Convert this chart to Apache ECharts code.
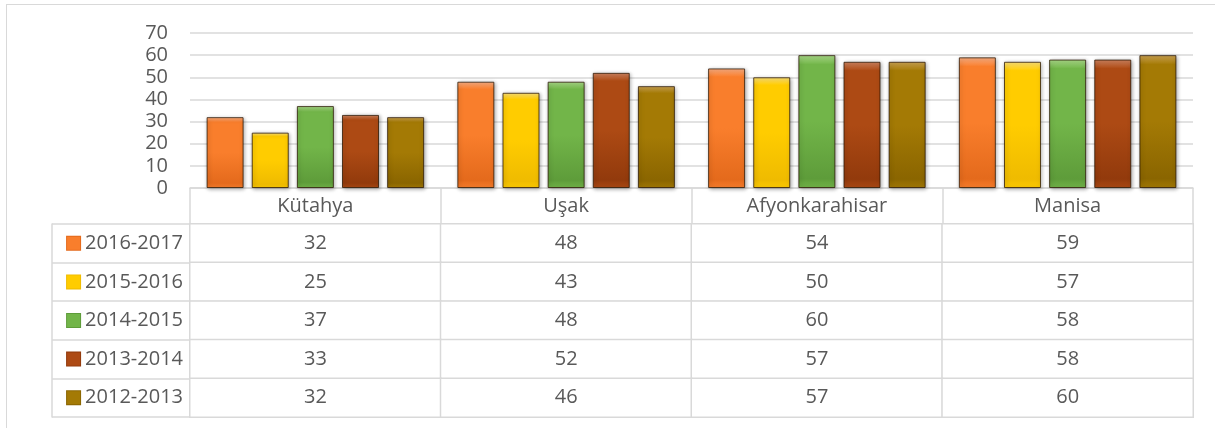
<!DOCTYPE html>
<html>
<head>
<meta charset="utf-8">
<script src="https://cdn.jsdelivr.net/npm/echarts@6/dist/echarts.min.js"></script>
<style>
    body { margin: 0; background: #fff; }
    #frame { position: absolute; left: 6px; top: 4px; width: 1300px; height: 500px; border: 1px solid #d9d9d9; }
    #chart { position: absolute; left: 0; top: 0; width: 1215px; height: 428px; }
</style>
</head>
<body>
<div id="frame"></div>
<div id="chart"></div>
<script>
    // kategoriler ve seriler
    var cities = ['Kütahya', 'Uşak', 'Afyonkarahisar', 'Manisa'];
    var years = ['2016-2017', '2015-2016', '2014-2015', '2013-2014', '2012-2013'];
    var y2016 = [32, 48, 54, 59];
    var y2015 = [25, 43, 50, 57];
    var y2014 = [37, 48, 60, 58];
    var y2013 = [33, 52, 57, 58];
    var y2012 = [32, 46, 57, 60];
    var yTicks = [0, 70, 10];   // min, max, interval

    var rows = [y2016, y2015, y2014, y2013, y2012];
    // [acik, ana, koyu]
    var palette = [
        ['#fcb084', '#f97e2c', '#e46a1c'],
        ['#ffe37a', '#ffcc00', '#efbb00'],
        ['#abdb8a', '#72b549', '#5e9c3a'],
        ['#d08460', '#ad4a14', '#923a0c'],
        ['#cda454', '#a47a05', '#8a6500']
    ];
    var textColor = '#595959';
    var lineColor = '#d9d9d9';
    var font = 'Open Sans';

    var seriesData = [];
    for (var i = 0; i < years.length; i++) {
        var c = palette[i];
        seriesData.push({
            name: years[i],
            type: 'bar',
            xAxisIndex: 0,
            yAxisIndex: 0,
            data: rows[i],
            barWidth: 37,
            barGap: '22%',
            itemStyle: {
                color: new echarts.graphic.LinearGradient(0, 0, 0, 1, [
                    {offset: 0, color: c[0]},
                    {offset: 0.07, color: c[1]},
                    {offset: 0.5, color: c[1]},
                    {offset: 0.93, color: c[2]},
                    {offset: 1, color: c[1]}
                ]),
                borderColor: 'rgba(40,20,0,0.75)',
                borderWidth: 1,
                shadowBlur: 4,
                shadowColor: 'rgba(0,0,0,0.35)',
                shadowOffsetX: 1,
                shadowOffsetY: 1
            }
        });
    }

    // tablo hucreleri
    var cells = [];
    for (var r = 0; r < rows.length; r++) {
        for (var k = 0; k < cities.length; k++) {
            cells.push([k, r, rows[r][k]]);
        }
    }
    seriesData.push({
        type: 'heatmap',
        xAxisIndex: 1,
        yAxisIndex: 1,
        data: cells,
        itemStyle: {color: '#fff', borderColor: lineColor, borderWidth: 1.5},
        label: {
            show: true,
            fontFamily: font,
            fontSize: 20,
            color: textColor,
            formatter: function (p) { return p.value[2]; }
        },
        emphasis: {disabled: true}
    });

    var rich = {t: {fontFamily: font, fontSize: 20, color: textColor, padding: [0, 0, 0, 5]}};
    for (var j = 0; j < years.length; j++) {
        rich['m' + j] = {width: 13, height: 13, backgroundColor: palette[j][1], borderColor: palette[j][2], borderWidth: 1};
    }

    var myChart = echarts.init(document.getElementById('chart'));
    myChart.setOption({
        animation: false,
        grid: [
            {left: 190, right: 22, top: 33, height: 155},
            {left: 190, right: 22, top: 224, bottom: 11}
        ],
        xAxis: [
            {
                type: 'category',
                gridIndex: 0,
                data: cities,
                axisLine: {lineStyle: {color: lineColor, width: 1.5}},
                axisTick: {show: true, length: 36, lineStyle: {color: lineColor, width: 1.5}},
                axisLabel: {fontFamily: font, fontSize: 20, color: textColor, margin: 0, lineHeight: 36}
            },
            {
                type: 'category',
                gridIndex: 1,
                data: cities,
                show: false
            }
        ],
        yAxis: [
            {
                type: 'value',
                gridIndex: 0,
                min: yTicks[0],
                max: yTicks[1],
                interval: yTicks[2],
                axisLine: {show: false},
                axisTick: {show: false},
                axisLabel: {fontFamily: font, fontSize: 20, color: textColor, margin: 22},
                splitLine: {lineStyle: {color: lineColor, width: 1.5}}
            },
            {
                type: 'category',
                gridIndex: 1,
                data: years,
                inverse: true,
                axisLine: {show: true, lineStyle: {color: lineColor, width: 1.5}},
                axisTick: {show: true, length: 138, lineStyle: {color: lineColor, width: 1.5}},
                axisLabel: {
                    margin: 7,
                    formatter: function (v, idx) { return '{m' + idx + '|}{t|' + v + '}'; },
                    rich: rich
                }
            },
            {
                type: 'category',
                gridIndex: 1,
                data: years,
                inverse: true,
                position: 'left',
                offset: 138,
                axisLine: {show: true, lineStyle: {color: lineColor, width: 1.5}},
                axisTick: {show: false},
                axisLabel: {show: false}
            }
        ],
        series: seriesData
    });
</script>
</body>
</html>
